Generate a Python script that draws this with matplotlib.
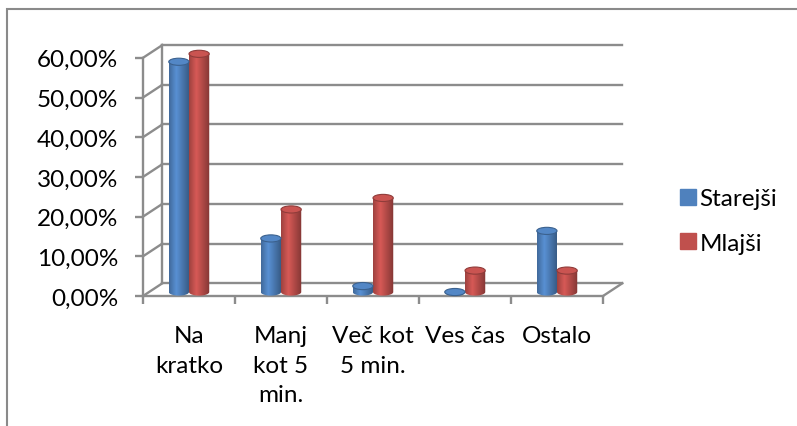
import numpy as np
import matplotlib.pyplot as plt
from matplotlib.patches import Ellipse, Polygon, Rectangle
from matplotlib.colors import to_rgb

plt.rcParams['font.family'] = ['Lato', 'DejaVu Sans']

categories = ['Na\nkratko', 'Manj\nkot 5\nmin.', 'Več kot\n5 min.', 'Ves čas', 'Ostalo']
starejsi = [58.0, 13.5, 1.5, 0.0, 15.4]
mlajsi = [60.0, 20.8, 23.7, 5.4, 5.4]
y_ticks = [0, 10, 20, 30, 40, 50, 60]
series = [('Starejši', starejsi, '#4f81bd'), ('Mlajši', mlajsi, '#c0504d')]

W, H = 797, 427
fig = plt.figure(figsize=(W / 100, H / 100), dpi=100)

# pixel layout of the front axis (x in categories, y in percent)
x0px, xscale = 143, 92
y0px, yscale = 297, 3.97
xlim = (-0.15, 5.45)
ylim = (-3.3, 67)
left = x0px + xlim[0] * xscale
right = x0px + xlim[1] * xscale
top = y0px - ylim[1] * yscale
bottom = y0px - ylim[0] * yscale
ax = fig.add_axes([left / W, 1 - bottom / H, (right - left) / W, (bottom - top) / H])

grid_c = '#8c8c8c'
dx, dy = 0.21, 3.2  # depth offset of back wall
n = len(categories)
fs = 17.5

# back wall grid + connectors
for v in y_ticks:
    ax.plot([dx, n + dx], [v + dy, v + dy], color=grid_c, lw=1.7, zorder=1)
    ax.plot([0, dx], [v, v + dy], color=grid_c, lw=1.7, zorder=1)
ax.plot([dx, dx], [dy, y_ticks[-1] + dy], color=grid_c, lw=1.7, zorder=1)
ax.plot([n, n + dx], [0, dy], color=grid_c, lw=1.7, zorder=1)

# cylinders
width = 0.22
eh = 1.8
base = 1.0
offsets = [-0.11, 0.11]
xs = np.arange(n) + 0.5


def ramp(c):
    rgb = np.array(to_rgb(c))
    t = np.linspace(0, 1, 64)
    f = np.interp(t, [0, 0.35, 1], [0.82, 1.12, 0.68])
    return np.clip(rgb[None, :] * f[:, None], 0, 1)[None, :, :]


handles = []
for (name, vals, c), off in zip(series, offsets):
    bars = ax.bar(xs + off, vals, width, bottom=base, color=c, zorder=2, linewidth=0)
    handles.append(Rectangle((0, 0), 1, 1, color=c))
    grad = ramp(c)
    rgb = np.array(to_rgb(c))
    for r in bars:
        bx, bw = r.get_x(), r.get_width()
        yb, yt = r.get_y(), r.get_y() + r.get_height()
        cx = bx + bw / 2
        t = np.linspace(np.pi, 2 * np.pi, 40)
        pts = [(bx, yt), (bx, yb)] + list(zip(cx + bw / 2 * np.cos(t), yb + eh / 2 * np.sin(t))) + [(bx + bw, yt)]
        poly = Polygon(pts, closed=True, transform=ax.transData)
        im = ax.imshow(grad, extent=[bx, bx + bw, yb - eh / 2, yt], aspect='auto',
                       interpolation='bilinear', zorder=3)
        im.set_clip_path(poly)
        ax.add_patch(Ellipse((cx, yt), bw, eh, facecolor=np.clip(rgb * 1.05, 0, 1),
                             edgecolor=np.clip(rgb * 0.75, 0, 1), lw=0.8, zorder=4))

ax.set_xlim(*xlim)
ax.set_ylim(*ylim)

for s in ['top', 'right']:
    ax.spines[s].set_visible(False)
ax.spines['left'].set_position(('data', 0))
ax.spines['left'].set_bounds(0, 60)
ax.spines['bottom'].set_position(('data', 0))
ax.spines['bottom'].set_bounds(0, n)
for s in ['left', 'bottom']:
    ax.spines[s].set_color(grid_c)
    ax.spines[s].set_linewidth(1.7)

ax.set_yticks(y_ticks)
ax.set_yticklabels([f'{v:.2f}%'.replace('.', ',') for v in y_ticks])
ax.tick_params(axis='y', length=5.8, width=1.7, color=grid_c, pad=12, labelsize=fs)
ax.set_xticks(np.arange(n + 1))
ax.set_xticklabels([])
ax.tick_params(axis='x', which='major', length=5.8, width=1.7, color=grid_c)
ax.set_xticks(xs, minor=True)
ax.set_xticklabels(categories, minor=True, linespacing=1.5)
ax.tick_params(axis='x', which='minor', length=0, pad=21, labelsize=fs)
ax.patch.set_visible(False)

ax.legend(handles, [s[0] for s in series], loc='center left',
          bbox_to_anchor=(680 / W, 1 - 222 / H), bbox_transform=fig.transFigure,
          frameon=False, fontsize=fs, handlelength=0.65, handleheight=0.65,
          handletextpad=0.15, labelspacing=0.95, borderpad=0, borderaxespad=0)

fig.add_artist(Rectangle((7.5 / W, -0.1), 1.2, 1.1 - 10 / H, transform=fig.transFigure,
                         fill=False, ec='#8a8a8a', lw=1.5))

fig.savefig('out.png', dpi=100)
